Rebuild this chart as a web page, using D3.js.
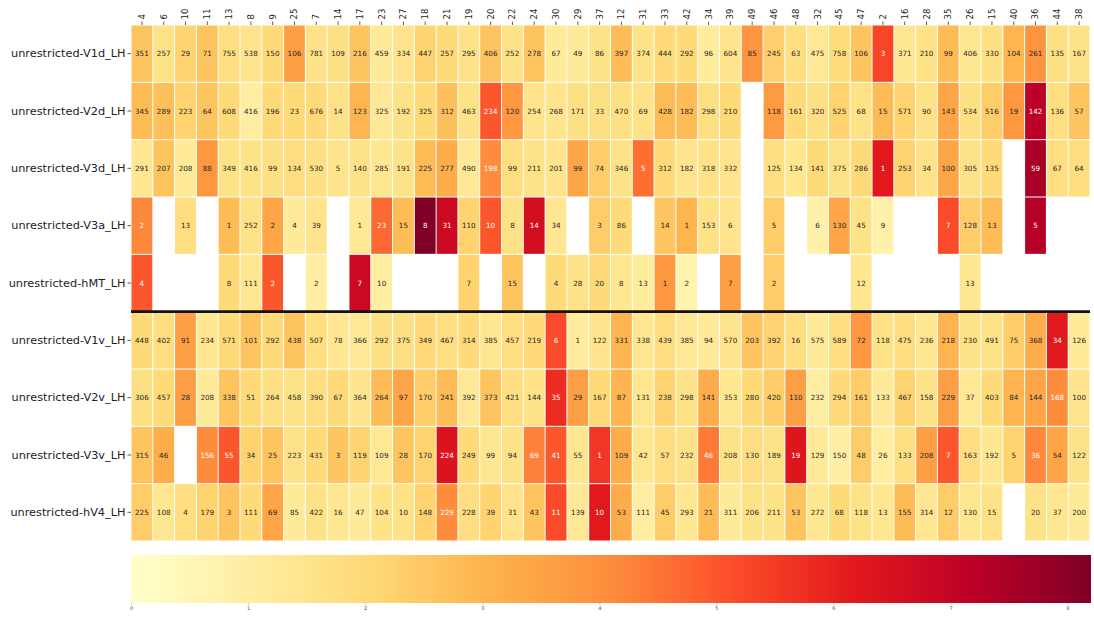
<!DOCTYPE html>
<html>
<head>
<meta charset="utf-8">
<script src="https://cdn.jsdelivr.net/npm/d3@7"></script>
<style>
  body { margin: 0; background: #fff; }
  svg { display: block; font-family: "DejaVu Sans", sans-serif; }
</style>
</head>
<body>
<svg id="chart" width="1094" height="617"></svg>
<script>
// Parcel ids along the x axis, in display order
const parcels = [4, 6, 10, 11, 13, 8, 9, 25, 7, 14, 17, 23, 27, 18, 21, 19, 20, 22, 24, 30, 29, 37,
  12, 31, 33, 42, 34, 39, 49, 46, 48, 32, 45, 47, 2, 16, 28, 35, 26, 15, 40, 36, 44, 38];

// Visual areas (rows)
const areas = ["unrestricted-V1d_LH", "unrestricted-V2d_LH", "unrestricted-V3d_LH", "unrestricted-V3a_LH",
  "unrestricted-hMT_LH", "unrestricted-V1v_LH", "unrestricted-V2v_LH", "unrestricted-V3v_LH", "unrestricted-hV4_LH"];

// Rank printed in each cell (null = no entry)
const rankV1d = [351,257,29,71,755,538,150,106,781,109,216,459,334,447,257,295,406,252,278,67,49,86,397,374,444,292,96,604,85,245,63,475,758,106,3,371,210,99,406,330,104,261,135,167];
const rankV2d = [345,289,223,64,608,416,196,23,676,14,123,325,192,325,312,463,234,120,254,268,171,33,470,69,428,182,298,210,null,118,161,320,525,68,15,571,90,143,534,516,19,142,136,57];
const rankV3d = [291,207,208,88,349,416,99,134,530,5,140,285,191,225,277,490,198,99,211,201,99,74,346,5,312,182,318,332,null,125,134,141,375,286,1,253,34,100,305,135,null,59,67,64];
const rankV3a = [2,null,13,null,1,252,2,4,39,null,1,23,15,8,31,110,10,8,14,34,null,3,86,null,14,1,153,6,null,5,null,6,130,45,9,null,null,7,128,13,null,5,null,null];
const rankHMT = [4,null,null,null,8,111,2,null,2,null,7,10,null,null,null,7,null,15,null,4,28,20,8,13,1,2,null,7,null,2,null,null,null,12,null,null,null,null,13,null,null,null,null,null];
const rankV1v = [448,402,91,234,571,101,292,438,507,78,366,292,375,349,467,314,385,457,219,6,1,122,331,338,439,385,94,570,203,392,16,575,589,72,118,475,236,218,230,491,75,368,34,126];
const rankV2v = [306,457,28,208,338,51,264,458,390,67,364,264,97,170,241,392,373,421,144,35,29,167,87,131,238,298,141,353,280,420,110,232,294,161,133,467,158,229,37,403,84,144,168,100];
const rankV3v = [315,46,null,156,55,34,25,223,431,3,119,109,28,170,224,249,99,94,69,41,55,1,109,42,57,232,46,208,130,189,19,129,150,48,26,133,208,7,163,192,5,36,54,122];
const rankHV4 = [225,108,4,179,3,111,69,85,422,16,47,104,10,148,229,228,39,31,43,11,139,10,53,111,45,293,21,311,206,211,53,272,68,118,13,155,314,12,130,15,null,20,37,200];

// Score mapped to colour (0 .. 8.2)
const scoreV1d = [2.6,1.6,2.2,2.6,1.8,1.5,2.0,3.6,1.6,1.7,2.6,1.2,1.5,2.2,2.0,1.6,2.6,1.6,2.6,1.2,1.2,1.6,2.8,1.6,2.0,2.0,1.1,1.5,3.9,2.3,1.8,1.3,1.9,2.6,5.3,1.4,1.6,2.8,1.4,1.7,3.0,3.9,1.7,1.6];
const scoreV2d = [2.8,2.7,2.2,2.6,2.0,1.0,2.0,2.0,2.0,1.6,3.0,1.3,1.6,2.0,2.7,1.6,5.0,3.8,1.5,1.5,1.7,1.7,1.7,1.6,2.8,2.8,1.7,2.0,null,3.7,2.0,1.7,2.2,1.6,2.8,2.2,1.6,3.4,1.7,2.4,3.8,7.2,1.8,2.6];
const scoreV3d = [1.4,2.6,1.2,3.8,1.6,1.6,1.7,1.8,1.7,1.5,1.6,1.4,1.6,2.8,3.2,1.3,4.1,1.8,1.6,1.5,3.4,2.4,1.6,4.6,2.0,1.5,1.6,1.5,null,1.7,1.4,2.0,1.6,2.0,6.2,2.2,1.6,3.4,1.6,2.0,null,7.5,1.8,1.8];
const scoreV3a = [4.2,null,1.8,null,2.8,1.6,3.4,1.2,1.5,null,1.3,4.7,2.8,8.2,6.8,2.2,5.0,1.6,6.6,1.4,null,2.4,2.0,null,2.6,3.0,1.6,1.5,null,2.4,null,0.8,3.4,1.6,0.8,null,null,5.2,2.4,2.8,null,7.3,null,null];
const scoreHMT = [5.0,null,null,null,2.0,1.4,5.0,null,1.0,null,6.8,1.0,null,null,null,2.2,null,2.6,null,2.0,1.6,2.0,1.4,1.1,3.8,0.7,null,3.6,null,2.4,null,null,null,1.4,null,null,null,null,1.4,null,null,null,null,null];
const scoreV1v = [2.0,1.8,3.6,1.4,2.0,2.6,2.0,2.6,1.8,1.4,1.3,1.7,1.7,2.0,1.8,2.0,1.4,1.8,2.0,5.2,1.1,1.5,3.0,1.4,1.8,1.3,1.2,1.5,2.6,2.2,1.8,1.2,1.8,3.8,1.6,1.8,1.4,3.0,1.6,1.6,2.4,3.2,6.2,1.2];
const scoreV2v = [1.7,2.0,3.6,1.2,2.6,2.0,1.7,1.6,1.8,2.0,1.5,2.8,3.4,2.4,2.8,1.3,2.6,1.8,1.6,5.8,3.6,2.0,3.0,1.4,2.2,1.6,3.2,1.4,2.0,2.4,3.6,1.0,2.0,2.4,1.2,2.2,1.6,3.6,1.3,2.0,3.0,3.4,4.1,1.5];
const scoreV3v = [2.6,3.2,null,4.1,5.0,2.2,2.6,1.6,2.0,2.6,2.2,1.3,2.6,2.2,6.4,2.0,1.4,1.6,4.3,5.0,1.4,5.6,3.2,1.4,1.8,1.6,4.4,1.6,1.8,1.6,6.3,1.2,0.9,2.4,1.0,1.7,3.6,5.0,1.8,1.4,2.2,4.2,3.4,1.6];
const scoreHV4 = [2.4,1.4,1.8,2.2,2.6,2.0,3.4,1.2,1.6,1.4,1.2,1.6,1.6,2.2,4.1,1.8,2.2,1.5,2.6,5.2,1.3,6.2,3.2,1.0,2.4,1.4,2.8,1.2,1.6,1.6,2.6,1.4,2.0,1.6,1.4,2.8,1.4,2.4,1.4,1.6,null,1.6,1.4,1.2];

// Colour-bar ticks
const cbarTicks = [0, 1, 2, 3, 4, 5, 6, 7, 8];
const vmin = 0, vmax = 8.2;

const ranks = [rankV1d, rankV2d, rankV3d, rankV3a, rankHMT, rankV1v, rankV2v, rankV3v, rankHV4];
const scores = [scoreV1d, scoreV2d, scoreV3d, scoreV3a, scoreHMT, scoreV1v, scoreV2v, scoreV3v, scoreHV4];

(function draw() {
  const cells = [];
  areas.forEach((a, r) => parcels.forEach((p, c) => {
    if (scores[r][c] != null) cells.push({ area: a, parcel: p, col: c, rank: ranks[r][c], score: scores[r][c] });
  }));

  const svg = d3.select("#chart");
  const mLeft = 131, mRight = 1090, mTop = 25, mBottom = 541;

  const x = d3.scaleBand().domain(d3.range(parcels.length)).range([mLeft, mRight]);
  const y = d3.scaleBand().domain(areas).range([mTop, mBottom]);

  const stops = d3.schemeYlOrRd[9];
  const color = d3.scaleLinear()
    .domain(stops.map((_, i) => vmin + (vmax - vmin) * i / (stops.length - 1)))
    .range(stops)
    .interpolate(d3.interpolateRgb)
    .clamp(true);

  function luminance(c) {
    const rgb = d3.rgb(c);
    const f = v => { v /= 255; return v <= 0.03928 ? v / 12.92 : Math.pow((v + 0.055) / 1.055, 2.4); };
    return 0.2126 * f(rgb.r) + 0.7152 * f(rgb.g) + 0.0722 * f(rgb.b);
  }

  // Cells
  const g = svg.append("g");
  g.selectAll("rect").data(cells).join("rect")
    .attr("x", d => x(d.col) + 0.5)
    .attr("y", d => y(d.area) + 0.5)
    .attr("width", x.bandwidth() - 1)
    .attr("height", y.bandwidth() - 1)
    .attr("fill", d => color(d.score));

  g.selectAll("text").data(cells).join("text")
    .attr("x", d => x(d.col) + x.bandwidth() / 2)
    .attr("y", d => y(d.area) + y.bandwidth() / 2)
    .attr("text-anchor", "middle")
    .attr("dominant-baseline", "central")
    .attr("font-size", 7.2)
    .attr("fill", d => luminance(color(d.score)) > 0.408 ? "#262626" : "#ffffff")
    .text(d => d.rank);

  // Divider between dorsal and ventral groups
  svg.append("line")
    .attr("x1", mLeft).attr("x2", mRight)
    .attr("y1", y(areas[5])).attr("y2", y(areas[5]))
    .attr("stroke", "#111").attr("stroke-width", 2.6);

  // Top axis with parcel ids
  const xAxis = d3.axisTop(x).tickSize(3.5).tickPadding(2).tickFormat(i => parcels[i]);
  const gx = svg.append("g").attr("transform", `translate(0,${mTop})`).call(xAxis);
  gx.select(".domain").remove();
  gx.selectAll(".tick line").attr("stroke", "#333").attr("stroke-width", 0.8);
  gx.selectAll(".tick text")
    .attr("font-size", 8.5)
    .attr("font-family", "DejaVu Sans, sans-serif")
    .attr("fill", "#222")
    .attr("transform", "rotate(-90)")
    .attr("x", 5.5).attr("y", 0).attr("dy", "0.35em")
    .attr("text-anchor", "start");

  // Left axis with area names
  const yAxis = d3.axisLeft(y).tickSize(3.5).tickPadding(2);
  const gy = svg.append("g").attr("transform", `translate(${mLeft},0)`).call(yAxis);
  gy.select(".domain").remove();
  gy.selectAll(".tick line").attr("stroke", "#333").attr("stroke-width", 0.8);
  gy.selectAll(".tick text")
    .attr("font-size", 11.3)
    .attr("font-family", "DejaVu Sans, sans-serif")
    .attr("fill", "#222");

  // Horizontal colour bar
  const cbTop = 555, cbBottom = 603, cbLeft = 131, cbRight = 1091;
  const cx = d3.scaleLinear().domain([vmin, vmax]).range([cbLeft, cbRight]);
  const defs = svg.append("defs");
  const grad = defs.append("linearGradient").attr("id", "cbar").attr("x1", "0%").attr("x2", "100%");
  stops.forEach((c, i) => grad.append("stop").attr("offset", (100 * i / (stops.length - 1)) + "%").attr("stop-color", c));
  svg.append("rect")
    .attr("x", cbLeft).attr("y", cbTop)
    .attr("width", cbRight - cbLeft).attr("height", cbBottom - cbTop)
    .attr("fill", "url(#cbar)");

  const cAxis = d3.axisBottom(cx).tickValues(cbarTicks).tickSize(2).tickPadding(1).tickFormat(d3.format("d"));
  const gc = svg.append("g").attr("transform", `translate(0,${cbBottom})`).call(cAxis);
  gc.select(".domain").remove();
  gc.selectAll(".tick line").attr("stroke", "#999").attr("stroke-width", 0.5);
  gc.selectAll(".tick text").attr("font-size", 5).attr("fill", "#555")
    .attr("font-family", "DejaVu Sans, sans-serif");
})();
</script>
</body>
</html>
